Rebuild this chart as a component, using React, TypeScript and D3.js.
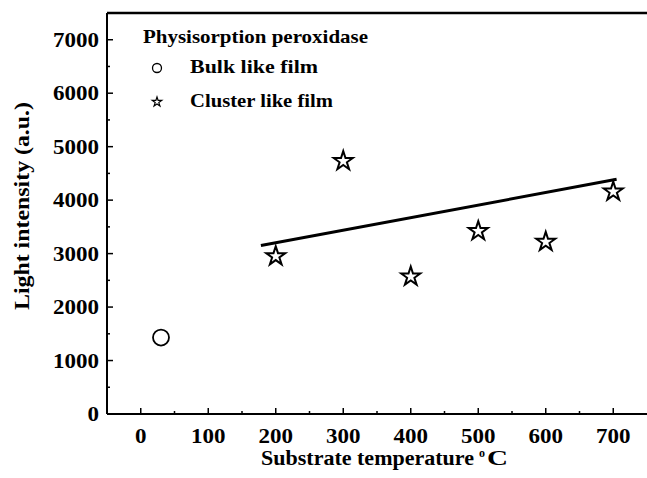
import React from "react";
import * as d3 from "d3";

// values
const bulkTemp = [30];
const bulkIntensity = [1430];
const clusterTemp = [200, 300, 400, 500, 600, 700];
const clusterIntensity = [2950, 4730, 2570, 3420, 3220, 4160];
const trendTemp = [178, 705];
const trendIntensity = [3150, 4390];
const xTicks = [0, 100, 200, 300, 400, 500, 600, 700];
const yTicks = [0, 1000, 2000, 3000, 4000, 5000, 6000, 7000];

const W = 647;
const H = 478;
const font = "'Liberation Serif', 'Times New Roman', serif";
// the scanned type is a bit wider than Liberation Serif, so stretch to measured widths
const digitW = 11.5;

const App = () => {
  const x = d3.scaleLinear().domain([-50, 750]).range([107, 647]);
  const y = d3.scaleLinear().domain([0, 7500]).range([414, 13]);

  const xMinor = d3.range(50, 750, 100);
  const yMinor = d3.range(500, 7500, 1000);

  const star = (r) => d3.symbol().type(d3.symbolStar).size((r * r) / 0.8908130915292852)();
  const trend = d3
    .line()
    .x((d) => x(d[0]))
    .y((d) => y(d[1]))(trendTemp.map((t, i) => [t, trendIntensity[i]]));

  return (
    <svg width={W} height={H} style={{ position: "absolute", left: 0, top: 0, background: "#fff" }} fontFamily={font} fontWeight="bold">
      {/* frame: left, bottom, top */}
      <line x1={x(-50)} x2={x(-50)} y1={y(7500)} y2={y(0)} stroke="#000" strokeWidth={2} />
      <line x1={x(-50)} x2={W} y1={y(0)} y2={y(0)} stroke="#000" strokeWidth={2} />
      <line x1={x(-50)} x2={W} y1={y(7500)} y2={y(7500)} stroke="#000" strokeWidth={2.5} />

      {xTicks.map((t) => {
        const s = String(t);
        return (
          <g key={"xt" + t}>
            <line x1={x(t)} x2={x(t)} y1={y(0)} y2={y(0) - 6} stroke="#000" strokeWidth={1.5} />
            <text x={x(t) - (s.length * digitW) / 2} y={443} fontSize={20} textLength={s.length * digitW} lengthAdjust="spacingAndGlyphs">{s}</text>
          </g>
        );
      })}
      {xMinor.map((t) => (
        <line key={"xm" + t} x1={x(t)} x2={x(t)} y1={y(0)} y2={y(0) - 3} stroke="#000" strokeWidth={1.5} />
      ))}
      {yTicks.map((t) => {
        const s = String(t);
        return (
          <g key={"yt" + t}>
            <line x1={x(-50)} x2={x(-50) + 6} y1={y(t)} y2={y(t)} stroke="#000" strokeWidth={1.5} />
            <text x={99 - s.length * digitW} y={y(t) + 7} fontSize={20} textLength={s.length * digitW} lengthAdjust="spacingAndGlyphs">{s}</text>
          </g>
        );
      })}
      {yMinor.map((t) => (
        <line key={"ym" + t} x1={x(-50)} x2={x(-50) + 3} y1={y(t)} y2={y(t)} stroke="#000" strokeWidth={1.5} />
      ))}

      <text x={261} y={465} fontSize={21} textLength={213} lengthAdjust="spacingAndGlyphs">Substrate temperature</text>
      <text x={479} y={457} fontSize={12}>o</text>
      <text x={487} y={465} fontSize={21} textLength={21} lengthAdjust="spacingAndGlyphs">C</text>
      <text transform="translate(29,206) rotate(-90)" x={-104} fontSize={21} textLength={208} lengthAdjust="spacingAndGlyphs">
        Light intensity (a.u.)
      </text>

      <path d={trend} stroke="#000" strokeWidth={3} fill="none" />

      {bulkTemp.map((t, i) => (
        <circle key={"b" + i} cx={x(t)} cy={y(bulkIntensity[i])} r={8} fill="none" stroke="#000" strokeWidth={1.8} />
      ))}
      {clusterTemp.map((t, i) => (
        <path key={"c" + i} d={star(10)} transform={`translate(${x(t)},${y(clusterIntensity[i])})`} fill="none" stroke="#000" strokeWidth={2} />
      ))}

      {/* legend */}
      <text x={143} y={43} fontSize={19} textLength={225} lengthAdjust="spacingAndGlyphs">Physisorption peroxidase</text>
      <circle cx={157} cy={68} r={4.5} fill="none" stroke="#000" strokeWidth={1.3} />
      <text x={190} y={73} fontSize={19} textLength={128} lengthAdjust="spacingAndGlyphs">Bulk like film</text>
      <path d={star(5)} transform="translate(157,102)" fill="none" stroke="#000" strokeWidth={1.2} />
      <text x={190} y={107} fontSize={19} textLength={143} lengthAdjust="spacingAndGlyphs">Cluster like film</text>
    </svg>
  );
};

export default App;
